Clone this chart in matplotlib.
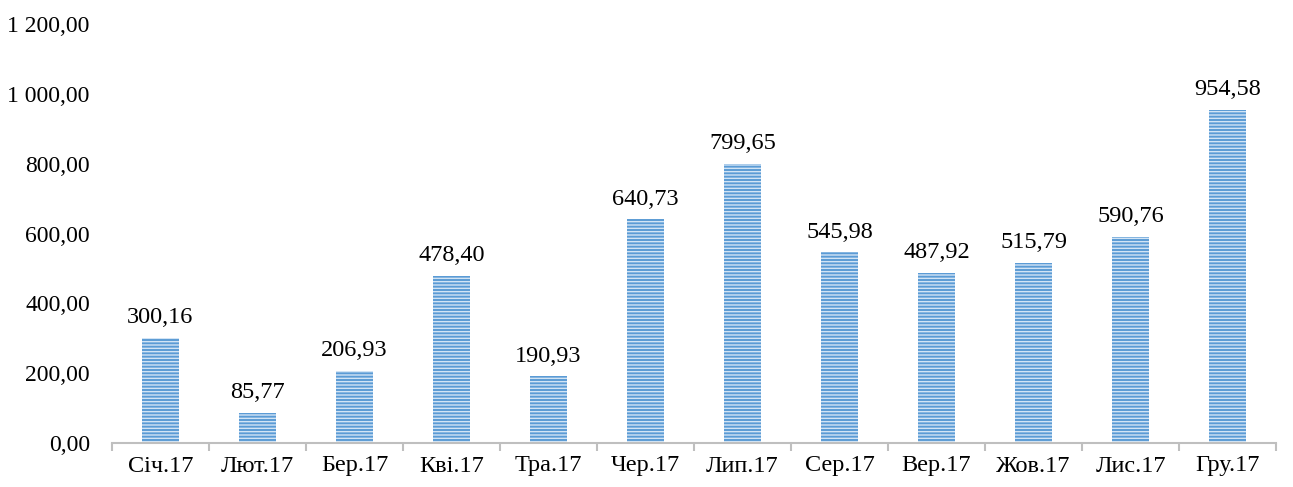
import matplotlib
matplotlib.use("Agg")
import matplotlib.pyplot as plt
from matplotlib.ticker import FuncFormatter, FixedLocator

categories = ["Січ.17", "Лют.17", "Бер.17", "Кві.17", "Тра.17", "Чер.17",
              "Лип.17", "Сер.17", "Вер.17", "Жов.17", "Лис.17", "Гру.17"]
values = [300.16, 85.77, 206.93, 478.40, 190.93, 640.73,
          799.65, 545.98, 487.92, 515.79, 590.76, 954.58]
yticks = [0, 200, 400, 600, 800, 1000, 1200]

def fmt(v, decimals=2):
    s = f"{v:,.{decimals}f}"
    return s.replace(",", " ").replace(".", ",")

plt.rcParams['font.family'] = ['Liberation Serif', 'DejaVu Serif']
plt.rcParams['hatch.linewidth'] = 1.0

fig = plt.figure(figsize=(12.93, 4.87), dpi=100)
ax = fig.add_axes([112/1293, 1-443/487, (1276-112)/1293, (443-24)/487])

x = list(range(len(categories)))
bars = ax.bar(x, values, width=0.39, color='#5b9bd5', edgecolor='#d2e4f5',
              linewidth=0, hatch='-----')

for xi, v in zip(x, values):
    ax.annotate(fmt(v), (xi, v), xytext=(0, 7), textcoords='offset points',
                ha='center', va='bottom', fontsize=17.5, color='black')

ax.set_xlim(-0.5, len(categories) - 0.5)
ax.set_ylim(0, 1200)
ax.set_yticks(yticks)
ax.yaxis.set_major_formatter(FuncFormatter(lambda v, p: fmt(v)))
ax.set_xticks(x)
ax.set_xticklabels(categories)
ax.xaxis.set_minor_locator(FixedLocator([i - 0.5 for i in range(len(categories) + 1)]))

for s in ['top', 'right', 'left']:
    ax.spines[s].set_visible(False)
ax.spines['bottom'].set_color('#bfbfbf')
ax.spines['bottom'].set_linewidth(1.5)

ax.tick_params(axis='x', which='major', length=0, pad=9, labelsize=17.5)
ax.tick_params(axis='x', which='minor', length=6, width=1.5, color='#bfbfbf')
ax.tick_params(axis='y', length=0, pad=16, labelsize=17)

fig.savefig("out.png", dpi=100)
